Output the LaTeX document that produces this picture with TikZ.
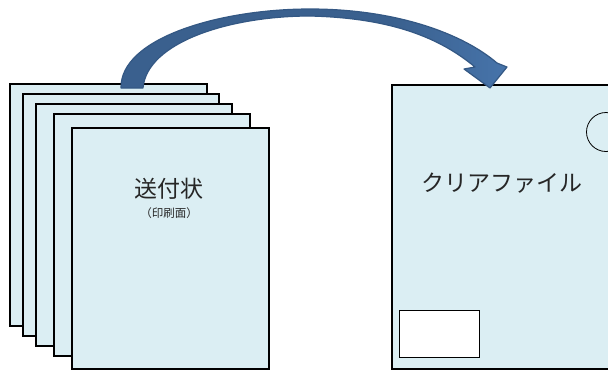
\documentclass[tikz,border=0pt]{standalone}
\usepackage{fontspec}
\newfontfamily\jpfont{Noto Sans CJK JP}
\definecolor{sheetfill}{RGB}{219,238,243}
\definecolor{arrowdark}{RGB}{58,96,142}
\definecolor{arrowlight}{RGB}{79,129,189}
\definecolor{arrowline}{RGB}{52,88,132}
\pgfdeclarehorizontalshading{arrowshade}{100bp}{color(0bp)=(arrowdark); color(60bp)=(arrowdark); color(85bp)=(arrowlight); color(100bp)=(arrowlight)}
\tikzset{
  sheet/.style={draw=black, fill=sheetfill, line width=1.5pt, rectangle, inner sep=0pt, anchor=north west},
  label/.style={font=\jpfont, text=black!85, inner sep=0pt},
}
\begin{document}
\begin{tikzpicture}[x=1pt,y=-1pt]
\useasboundingbox (0,0) rectangle (608,370);
\clip (0,0) rectangle (608,370);
% stacked sheets
\node[sheet, minimum width=197, minimum height=242] (s1) at (9,83) {};
\node[sheet, minimum width=196, minimum height=242] (s2) at (22,93) {};
\node[sheet, minimum width=196, minimum height=242] (s3) at (35,103) {};
\node[sheet, minimum width=196, minimum height=242] (s4) at (53,113) {};
\node[sheet, minimum width=197, minimum height=241] (s5) at (71,127) {};
\node[label, font=\jpfont\fontsize{23}{26}\selectfont] (t1) at (169,189) {送付状};
\node[label, font=\jpfont\fontsize{11.5}{13}\selectfont] (t2) at (169,213) {（印刷面）};
% clear file
\node[sheet, minimum width=230, minimum height=284] (file) at (391,84) {};
\node[draw=black, line width=0.8pt, fill=sheetfill, circle, minimum size=39, inner sep=0pt] (hole) at (606,132) {};
\node[draw=black, line width=1pt, fill=white, rectangle, minimum width=80, minimum height=47, inner sep=0pt, anchor=north west] (win) at (399,310) {};
\node[label, font=\jpfont\fontsize{23}{26}\selectfont] (t3) at (502,183) {クリアファイル};
% curved arrow
\path[draw=arrowline, line width=1.2pt, line join=round, shading=arrowshade]
  (121,88) .. controls (120,38) and (220,9) .. (310,9)
  .. controls (395,9) and (462,33) .. (497,63)
  -- (507,67) -- (490,88) -- (464,69) -- (475,67)
  .. controls (440,38) and (392,18) .. (310,16)
  .. controls (230,16) and (147,42) .. (143,88) -- cycle;
\end{tikzpicture}
\end{document}
